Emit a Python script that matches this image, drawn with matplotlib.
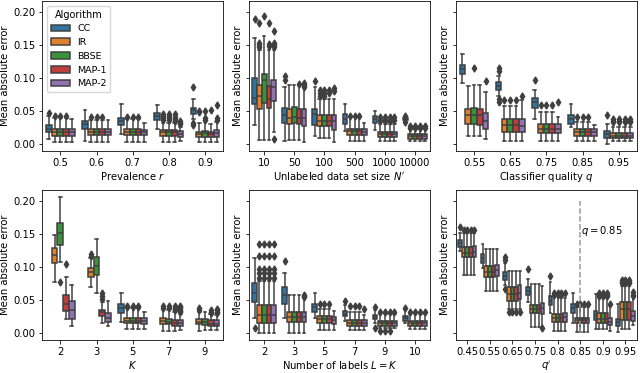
import matplotlib
matplotlib.use('Agg')
import matplotlib.pyplot as plt
from matplotlib.patches import Patch

S = 0.72  # overall scale of the reference figure
plt.rcParams['font.size'] = 10 * S
plt.rcParams['xtick.labelsize'] = 10 * S
plt.rcParams['ytick.labelsize'] = 10 * S
plt.rcParams['legend.fontsize'] = 6.8
plt.rcParams['legend.title_fontsize'] = 7.0
plt.rcParams['xtick.major.size'] = 3.5 * S
plt.rcParams['ytick.major.size'] = 3.5 * S
plt.rcParams['xtick.major.pad'] = 3.5 * S
plt.rcParams['ytick.major.pad'] = 3.5 * S
plt.rcParams['xtick.major.width'] = 0.8 * S
plt.rcParams['ytick.major.width'] = 0.8 * S
plt.rcParams['axes.linewidth'] = 0.8 * S
plt.rcParams['axes.labelpad'] = 2.0

ALGS = ['CC', 'IR', 'BBSE', 'MAP-1', 'MAP-2']
COLORS = ['#3274a1', '#e1812c', '#3a923a', '#c03d3e', '#9372b2']
GRAY = '#3f3f3f'

# ---- stats per box: (whisker low, q1, median, q3, whisker high) ----
PREV_CATS = ['0.5', '0.6', '0.7', '0.8', '0.9']
PREV_STATS = {
    'CC': [(0.0075, 0.0185, 0.0235, 0.0285, 0.0425), (0.005, 0.0225, 0.030, 0.035, 0.051),
           (0.015, 0.0285, 0.035, 0.040, 0.060), (0.0225, 0.0365, 0.0425, 0.0465, 0.059),
           (0.0375, 0.046, 0.051, 0.055, 0.0675)],
    'IR': [(0.0025, 0.0125, 0.0175, 0.0235, 0.039), (0.0025, 0.0135, 0.018, 0.0225, 0.036),
           (0.0025, 0.013, 0.0185, 0.0225, 0.0375), (0.0035, 0.0125, 0.0175, 0.021, 0.0325),
           (0.0025, 0.011, 0.015, 0.0185, 0.0325)],
    'BBSE': [(0.0025, 0.0125, 0.0175, 0.0235, 0.039), (0.0025, 0.0135, 0.018, 0.0225, 0.036),
             (0.0025, 0.013, 0.0185, 0.0225, 0.0375), (0.0035, 0.0125, 0.0175, 0.021, 0.0325),
             (0.0025, 0.011, 0.016, 0.0195, 0.033)],
    'MAP-1': [(0.0025, 0.0125, 0.0175, 0.0235, 0.039), (0.0025, 0.0135, 0.018, 0.0225, 0.036),
              (0.0025, 0.013, 0.0185, 0.0225, 0.0375), (0.0035, 0.0125, 0.0175, 0.021, 0.0325),
              (0.0025, 0.011, 0.015, 0.0185, 0.031)],
    'MAP-2': [(0.0025, 0.0125, 0.0175, 0.0235, 0.0385), (0.0025, 0.0135, 0.018, 0.0225, 0.037),
              (0.0025, 0.0135, 0.0175, 0.0215, 0.0325), (0.005, 0.011, 0.0155, 0.020, 0.026),
              (0.0025, 0.011, 0.0165, 0.021, 0.034)],
}
PREV_FLIERS = {
    'CC': [[0.0465], [], [], [], [0.086, 0.032, 0.029]],
    'IR': [[0.0425], [0.041], [0.041], [0.045, 0.042, 0.039, 0.036], [0.0505, 0.048]],
    'BBSE': [[0.0425], [0.041], [0.041], [0.046, 0.043, 0.039, 0.036], [0.050, 0.040, 0.037]],
    'MAP-1': [[0.0425], [0.041], [0.041], [0.045, 0.041, 0.038, 0.035], [0.051]],
    'MAP-2': [[], [], [], [0.035, 0.032, 0.030], [0.0585, 0.040, 0.037]],
}

N_CATS = ['10', '50', '100', '500', '1000', '10000']
N_STATS = {
    'CC': [(0.029, 0.060, 0.070, 0.100, 0.160), (0.005, 0.0315, 0.0435, 0.055, 0.086),
           (0.0125, 0.0285, 0.046, 0.0535, 0.0865), (0.020, 0.030, 0.0375, 0.045, 0.060),
           (0.021, 0.0325, 0.0385, 0.0425, 0.050), (0.035, 0.0365, 0.038, 0.0395, 0.041)],
    'IR': [(0.0065, 0.0525, 0.0725, 0.090, 0.1425), (0.0065, 0.030, 0.040, 0.0535, 0.090),
           (0.0085, 0.0275, 0.035, 0.0435, 0.0675), (0.005, 0.0135, 0.020, 0.0235, 0.0405),
           (0.005, 0.010, 0.0145, 0.0185, 0.030), (0.005, 0.0075, 0.0115, 0.015, 0.0225)],
    'BBSE': [(0.0065, 0.0625, 0.0975, 0.1065, 0.1635), (0.0065, 0.0315, 0.0415, 0.056, 0.089),
             (0.0085, 0.0275, 0.035, 0.0435, 0.0675), (0.005, 0.0135, 0.020, 0.0235, 0.0405),
             (0.005, 0.010, 0.0145, 0.0185, 0.030), (0.005, 0.0075, 0.0115, 0.015, 0.0225)],
    'MAP-1': [(0.0065, 0.055, 0.0675, 0.0885, 0.1425), (0.0065, 0.030, 0.040, 0.0535, 0.088),
              (0.0085, 0.0275, 0.035, 0.0435, 0.0675), (0.005, 0.0135, 0.020, 0.0235, 0.0405),
              (0.005, 0.010, 0.0145, 0.0185, 0.030), (0.005, 0.0075, 0.0115, 0.015, 0.0225)],
    'MAP-2': [(0.0175, 0.065, 0.0865, 0.0975, 0.1425), (0.0035, 0.0275, 0.040, 0.0535, 0.086),
              (0.0035, 0.0215, 0.035, 0.0435, 0.0675), (0.005, 0.0135, 0.019, 0.0225, 0.0315),
              (0.005, 0.010, 0.0145, 0.0185, 0.030), (0.005, 0.0075, 0.0115, 0.015, 0.0225)],
}
N_FLIERS = {
    'CC': [[0.190], [0.1035, 0.0975], [0.096], [], [], [0.043, 0.0335]],
    'IR': [[0.153, 0.150, 0.1475, 0.1835], [], [0.0825, 0.0775, 0.073], [0.0425],
           [0.0405, 0.037, 0.035], [0.027, 0.025]],
    'BBSE': [[0.194], [], [0.0825, 0.078, 0.073], [0.0425], [0.0405, 0.037, 0.035], [0.027, 0.025]],
    'MAP-1': [[0.152, 0.148, 0.1835], [0.091], [0.0825, 0.0775], [0.0425],
              [0.0405, 0.037, 0.035], [0.027, 0.025]],
    'MAP-2': [[0.153, 0.150, 0.147, 0.1715, 0.0075], [0.0925, 0.089, 0.087], [0.085, 0.080], [],
              [0.0405, 0.037], [0.027, 0.025]],
}

Q_CATS = ['0.55', '0.65', '0.75', '0.85', '0.95']
Q_STATS = {
    'CC': [(0.0925, 0.106, 0.1135, 0.120, 0.136), (0.0725, 0.0826, 0.088, 0.0935, 0.1025),
           (0.0385, 0.055, 0.0635, 0.070, 0.0815), (0.0265, 0.030, 0.0375, 0.0435, 0.061),
           (0.000, 0.009, 0.015, 0.020, 0.0305)],
    'IR': [(0.0115, 0.030, 0.0435, 0.0535, 0.0875), (0.005, 0.0185, 0.0285, 0.0375, 0.0575),
           (0.005, 0.0165, 0.0235, 0.031, 0.0485), (0.005, 0.0125, 0.0175, 0.0225, 0.034),
           (0.005, 0.009, 0.0115, 0.016, 0.026)],
    'BBSE': [(0.0115, 0.030, 0.0435, 0.055, 0.090), (0.005, 0.0185, 0.0285, 0.0375, 0.0575),
             (0.005, 0.0165, 0.0235, 0.031, 0.0485), (0.005, 0.0125, 0.0175, 0.0225, 0.034),
             (0.005, 0.009, 0.0115, 0.016, 0.026)],
    'MAP-1': [(0.0115, 0.029, 0.0435, 0.0535, 0.089), (0.005, 0.0185, 0.0285, 0.0375, 0.0575),
              (0.005, 0.0165, 0.0235, 0.031, 0.0485), (0.005, 0.0125, 0.0175, 0.0225, 0.034),
              (0.005, 0.009, 0.0115, 0.016, 0.026)],
    'MAP-2': [(0.0075, 0.0235, 0.035, 0.0475, 0.079), (0.005, 0.0185, 0.028, 0.0375, 0.066),
              (0.005, 0.0165, 0.0235, 0.031, 0.041), (0.005, 0.012, 0.0175, 0.0225, 0.0285),
              (0.005, 0.009, 0.0115, 0.016, 0.026)],
}
Q_FLIERS = {
    'CC': [[], [0.115, 0.110, 0.0675, 0.063], [0.0965], [], [0.0435]],
    'IR': [[], [0.0665], [0.059], [0.041], [0.0375, 0.035, 0.033]],
    'BBSE': [[0.115], [0.0665], [0.059], [0.041], [0.0375, 0.035, 0.033]],
    'MAP-1': [[], [0.0665], [0.059], [0.041], [0.0375, 0.035, 0.033]],
    'MAP-2': [[0.095], [0.0735], [0.0635], [], [0.0375, 0.035, 0.033]],
}

K_CATS = ['2', '3', '5', '7', '9']
K_STATS = {
    'CC': [None, None, (0.017, 0.0308, 0.0375, 0.0433, 0.060), None, None],
    'IR': [(0.0766, 0.1055, 0.1175, 0.129, 0.149), (0.069, 0.084, 0.0925, 0.099, 0.114),
           (0.0055, 0.0145, 0.0187, 0.023, 0.037), (0.0035, 0.013, 0.0175, 0.022, 0.034),
           (0.0025, 0.013, 0.017, 0.0207, 0.031)],
    'BBSE': [(0.1075, 0.1324, 0.151, 0.167, 0.206), (0.060, 0.0876, 0.1015, 0.1154, 0.142),
             (0.0055, 0.0145, 0.0187, 0.023, 0.037), (0.0035, 0.013, 0.0165, 0.021, 0.034),
             (0.004, 0.012, 0.0165, 0.0205, 0.031)],
    'MAP-1': [(0.0204, 0.0328, 0.0443, 0.0567, 0.084), (0.0145, 0.0254, 0.031, 0.0343, 0.0467),
              (0.0055, 0.0145, 0.0187, 0.023, 0.037), (0.0025, 0.011, 0.0155, 0.020, 0.031),
              (0.0045, 0.0105, 0.014, 0.019, 0.028)],
    'MAP-2': [(0.011, 0.0209, 0.0343, 0.0478, 0.0726), (0.011, 0.016, 0.023, 0.0294, 0.048),
              (0.0055, 0.0135, 0.0175, 0.0225, 0.031), (0.004, 0.011, 0.0155, 0.020, 0.0285),
              (0.004, 0.0105, 0.014, 0.019, 0.027)],
}
K_FLIERS = {
    'CC': [[], [], [], [], []],
    'IR': [[], [0.120, 0.117], [0.041, 0.039], [0.040, 0.037], [0.0375, 0.035]],
    'BBSE': [[0.077], [], [0.041, 0.039], [0.040, 0.037], []],
    'MAP-1': [[0.104], [0.0597, 0.056, 0.052], [0.041, 0.039], [0.040, 0.038, 0.036, 0.034],
              [0.034, 0.032, 0.030]],
    'MAP-2': [[], [], [], [0.041, 0.039, 0.037, 0.035, 0.033, 0.031], [0.036, 0.034, 0.032, 0.030]],
}

L_CATS = ['2', '3', '5', '7', '9', '10']
L_STATS = {
    'CC': [(0.0229, 0.0467, 0.0607, 0.075, 0.114), (0.023, 0.0443, 0.0567, 0.069, 0.0905),
           (0.022, 0.031, 0.0393, 0.0443, 0.0607), (0.018, 0.0254, 0.029, 0.0328, 0.042),
           (0.0145, 0.0204, 0.0235, 0.0269, 0.0343), (0.0145, 0.0179, 0.0219, 0.0254, 0.034)],
    'IR': [(0.0, 0.0145, 0.0269, 0.0418, 0.079), (0.0, 0.016, 0.0243, 0.0318, 0.0567),
           (0.0045, 0.0145, 0.021, 0.0254, 0.0358), (0.0045, 0.011, 0.0157, 0.0194, 0.032),
           (0.007, 0.011, 0.0145, 0.018, 0.0284), (0.0055, 0.011, 0.0145, 0.018, 0.0284)],
    'BBSE': [(0.0, 0.0145, 0.0269, 0.0418, 0.079), (0.0, 0.016, 0.0243, 0.0318, 0.0567),
             (0.0045, 0.0145, 0.021, 0.0254, 0.0358), (0.0045, 0.011, 0.0157, 0.0194, 0.032),
             (0.007, 0.011, 0.0145, 0.018, 0.0284), (0.0055, 0.011, 0.0145, 0.018, 0.0284)],
    'MAP-1': [(0.0, 0.0145, 0.0269, 0.0418, 0.079), (0.0, 0.016, 0.0243, 0.0318, 0.0567),
              (0.0045, 0.0145, 0.021, 0.0254, 0.0358), (0.0045, 0.011, 0.0157, 0.0194, 0.032),
              (0.007, 0.011, 0.0145, 0.018, 0.0284), (0.0055, 0.011, 0.0145, 0.018, 0.0284)],
    'MAP-2': [(0.0, 0.0145, 0.0269, 0.0425, 0.079), (0.0, 0.016, 0.0243, 0.0318, 0.0527),
              (0.0045, 0.0135, 0.019, 0.0245, 0.033), (0.0045, 0.011, 0.0157, 0.0194, 0.027),
              (0.007, 0.011, 0.0145, 0.018, 0.0284), (0.0055, 0.011, 0.0145, 0.018, 0.0284)],
}
L_FLIERS = {
    'CC': [[0.008], [0.109], [], [0.049], [0.039, 0.007], [0.037]],
    'IR': [[0.0836, 0.091, 0.097, 0.116, 0.134], [], [0.043], [0.040], [0.032, 0.0025], [0.031]],
    'BBSE': [[0.0836, 0.091, 0.097, 0.116, 0.134], [], [0.043], [0.040], [0.032, 0.0025], [0.031]],
    'MAP-1': [[0.0836, 0.091, 0.097, 0.116, 0.134], [], [0.043], [0.040], [0.032, 0.0025], [0.031]],
    'MAP-2': [[0.0836, 0.091, 0.097, 0.116, 0.134], [0.058, 0.0555, 0.054], [], [0.0358],
              [0.032], [0.031]],
}

QP_CATS = ['0.45', '0.55', '0.65', '0.75', '0.8', '0.85', '0.9', '0.95']
QP_STATS = {
    'CC': [(0.124, 0.1303, 0.136, 0.1413, 0.151), (0.099, 0.1055, 0.114, 0.119, 0.1353),
           (0.072, 0.080, 0.0865, 0.0925, 0.1065), (0.0467, 0.0567, 0.0627, 0.069, 0.0816),
           (0.0298, 0.0418, 0.049, 0.0557, 0.0766), (0.0145, 0.0303, 0.0378, 0.0443, 0.0607),
           (0.006, 0.0194, 0.0269, 0.0328, 0.0587), (0.002, 0.011, 0.0164, 0.0209, 0.0443)],
    'IR': [(0.0876, 0.115, 0.121, 0.130, 0.151), (0.0627, 0.084, 0.0925, 0.1015, 0.127),
           (0.036, 0.049, 0.059, 0.069, 0.094), (0.0095, 0.0294, 0.0358, 0.0428, 0.0742),
           (0.0035, 0.0169, 0.0224, 0.0279, 0.0567), (0.002, 0.0154, 0.0189, 0.0229, 0.0393),
           (0.006, 0.0145, 0.0209, 0.0294, 0.0527), (0.006, 0.0194, 0.0368, 0.0467, 0.0716)],
    'BBSE': [(0.0876, 0.115, 0.121, 0.130, 0.151), (0.0627, 0.084, 0.0925, 0.1015, 0.127),
             (0.036, 0.049, 0.059, 0.069, 0.094), (0.0095, 0.0294, 0.0358, 0.0428, 0.0742),
             (0.0035, 0.0169, 0.0224, 0.0279, 0.0567), (0.002, 0.0154, 0.0189, 0.0229, 0.0393),
             (0.006, 0.0145, 0.0209, 0.0294, 0.0527), (0.006, 0.0194, 0.0368, 0.0467, 0.0716)],
    'MAP-1': [(0.0876, 0.115, 0.121, 0.130, 0.151), (0.0627, 0.084, 0.0925, 0.1015, 0.127),
              (0.036, 0.049, 0.059, 0.069, 0.094), (0.0095, 0.0294, 0.0358, 0.0428, 0.0742),
              (0.0035, 0.0169, 0.0224, 0.0279, 0.0567), (0.002, 0.0154, 0.0189, 0.0229, 0.0393),
              (0.006, 0.0145, 0.0209, 0.0294, 0.0527), (0.006, 0.0194, 0.0368, 0.0467, 0.0716)],
    'MAP-2': [(0.0876, 0.115, 0.123, 0.132, 0.151), (0.0627, 0.0865, 0.095, 0.103, 0.127),
              (0.036, 0.052, 0.061, 0.072, 0.094), (0.0095, 0.029, 0.037, 0.046, 0.071),
              (0.0035, 0.0169, 0.0235, 0.030, 0.053), (0.002, 0.0154, 0.0189, 0.0229, 0.0393),
              (0.0035, 0.0119, 0.016, 0.0229, 0.040), (0.0115, 0.0179, 0.026, 0.0328, 0.054)],
}
QP_FLIERS = {
    'CC': [[0.161], [], [0.1146, 0.110, 0.0657], [0.0975], [0.0856], [], [], []],
    'IR': [[0.156], [], [0.0315], [], [0.061, 0.058], [0.0443], [0.0607, 0.057, 0.0557],
           [0.0806, 0.076, 0.0776]],
    'BBSE': [[0.156], [], [0.0315], [], [0.061, 0.058], [0.0443], [0.0607, 0.057, 0.0557],
             [0.0806, 0.076, 0.0776]],
    'MAP-1': [[0.156], [], [0.0315], [], [0.061, 0.058], [0.0443], [0.0607, 0.057, 0.0557],
              [0.0806, 0.076, 0.0776]],
    'MAP-2': [[0.156], [], [0.0315], [0.007], [0.061], [0.0443], [0.0443], [0.0616, 0.057, 0.0556]],
}

LW = 1.5 * S


def draw(ax, cats, stats, fliers, xlabel):
    n = len(ALGS)
    width = 0.8 / n
    for j, alg in enumerate(ALGS):
        off = -0.4 + width * (j + 0.5)
        for i, s in enumerate(stats[alg]):
            if s is None:
                continue
            lo, q1, med, q3, hi = s
            d = dict(whislo=lo, q1=q1, med=med, q3=q3, whishi=hi, fliers=fliers[alg][i])
            ax.bxp([d], positions=[i + off], widths=width * 0.98, patch_artist=True,
                   showfliers=True, manage_ticks=False,
                   boxprops=dict(facecolor=COLORS[j], edgecolor=GRAY, linewidth=LW),
                   medianprops=dict(color=GRAY, linewidth=LW),
                   whiskerprops=dict(color=GRAY, linewidth=LW),
                   capprops=dict(color=GRAY, linewidth=LW),
                   flierprops=dict(marker='d', markerfacecolor=GRAY, markeredgecolor=GRAY,
                                   markersize=5 * S, linestyle='none'))
    ax.set_xticks(range(len(cats)))
    ax.set_xticklabels(cats)
    ax.set_xlim(-0.5, len(cats) - 0.5)
    ax.set_xlabel(xlabel, labelpad=1.5)
    ax.set_ylabel('Mean absolute error')


fig, axes = plt.subplots(2, 3, figsize=(6.4, 3.73), dpi=100, sharey=True)
fig.subplots_adjust(left=0.066, right=0.995, top=0.997, bottom=0.089, wspace=0.1436, hspace=0.26)

draw(axes[0, 0], PREV_CATS, PREV_STATS, PREV_FLIERS, 'Prevalence $r$')
draw(axes[0, 1], N_CATS, N_STATS, N_FLIERS, "Unlabeled data set size $N'$")
draw(axes[0, 2], Q_CATS, Q_STATS, Q_FLIERS, 'Classifier quality $q$')
draw(axes[1, 0], K_CATS, K_STATS, K_FLIERS, '$K$')
draw(axes[1, 1], L_CATS, L_STATS, L_FLIERS, 'Number of labels $L = K$')
draw(axes[1, 2], QP_CATS, QP_STATS, QP_FLIERS, "$q'$")

axes[0, 0].set_ylim(-0.0105, 0.2165)
axes[0, 0].set_yticks([0.0, 0.05, 0.10, 0.15, 0.20])

# reference line at q = 0.85
ax = axes[1, 2]
xq = QP_CATS.index('0.85')
ax.vlines(xq, 0.0, 0.2, colors='#999999', linestyles='--', linewidth=1.5 * S)
ax.text(xq + 0.05, 0.155, '$q = 0.85$', va='center', ha='left')

handles = [Patch(facecolor=c, edgecolor=GRAY, linewidth=LW, label=a) for a, c in zip(ALGS, COLORS)]
axes[0, 0].legend(handles=handles, title='Algorithm', loc='upper left')

fig.savefig('out.png', dpi=100)
